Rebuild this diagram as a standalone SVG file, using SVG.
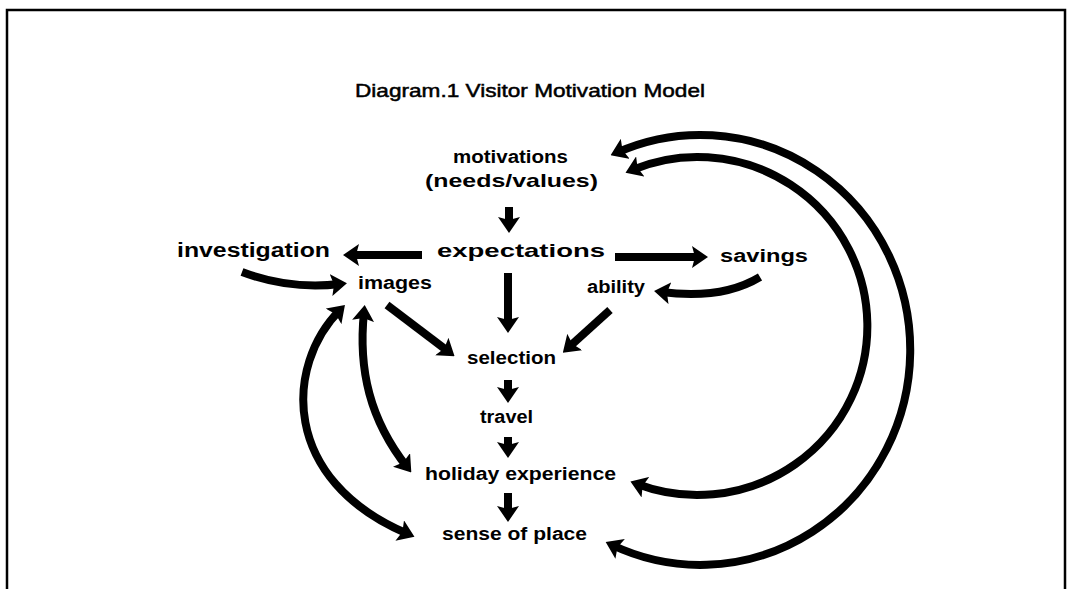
<svg xmlns="http://www.w3.org/2000/svg" width="1068" height="589" viewBox="0 0 1068 589">
<style>
.lbl{font-family:"Liberation Sans",Arial,Helvetica,sans-serif;font-weight:bold;fill:#000;}
.ttl{font-family:"Liberation Sans",Arial,Helvetica,sans-serif;font-size:19px;fill:#000;stroke:#000;stroke-width:0.5;}
.c{fill:none;stroke:#000;stroke-width:8;}
</style>
<defs>
<marker id="ah" viewBox="0 0 16 22" markerUnits="userSpaceOnUse" markerWidth="16" markerHeight="22" refX="9" refY="11" orient="auto-start-reverse">
<path d="M0,0 L16,11 L0,22 L3,11 z" fill="#000"/>
</marker>
</defs>
<rect width="1068" height="589" fill="#fff"/>
<g id="frame">
<path d="M7,589 L7,10 L1065,10 L1065,589" fill="none" stroke="#000" stroke-width="2.5"/>
</g>
<text class="ttl" x="355" y="97" textLength="350" lengthAdjust="spacingAndGlyphs">Diagram.1 Visitor Motivation Model</text>
<g id="connectors">
<path class="c" d="M509,207 L509,226" marker-end="url(#ah)"/>
<path class="c" d="M422,255 L350,255" marker-end="url(#ah)"/>
<path class="c" d="M615,257 L701,257" marker-end="url(#ah)"/>
<path class="c" d="M508,273 L508,326" marker-end="url(#ah)"/>
<path class="c" d="M387,305 L449,352" marker-end="url(#ah)"/>
<path class="c" d="M610,310 L568,348" marker-end="url(#ah)"/>
<path class="c" d="M508,380 L508,396" marker-end="url(#ah)"/>
<path class="c" d="M508,437 L508,451" marker-end="url(#ah)"/>
<path class="c" d="M508,493 L508,515" marker-end="url(#ah)"/>
<path class="c" d="M242,272 Q290,290 340,284" marker-end="url(#ah)"/>
<path class="c" d="M760,277 Q722,300 661,292" marker-end="url(#ah)"/>
<path class="c" d="M364,312 C358,370 370,420 407,467" marker-start="url(#ah)" marker-end="url(#ah)"/>
<path class="c" d="M340,310 C285,365 280,480 408,534" marker-start="url(#ah)" marker-end="url(#ah)"/>
<path class="c" d="M612,545 A210,215 0 1 0 617,152.5" marker-start="url(#ah)" marker-end="url(#ah)"/>
<path class="c" d="M637,484 A170,169 0 1 0 632,170" marker-start="url(#ah)" marker-end="url(#ah)"/>
</g>
<g id="motivations">
<text class="lbl" x="453" y="163" font-size="18" textLength="115" lengthAdjust="spacingAndGlyphs">motivations</text>
<text class="lbl" x="425" y="187" font-size="19" textLength="173" lengthAdjust="spacingAndGlyphs">(needs/values)</text>
</g>
<g id="expectations"><text class="lbl" x="437" y="257" font-size="19" textLength="168" lengthAdjust="spacingAndGlyphs">expectations</text></g>
<g id="investigation"><text class="lbl" x="177" y="257" font-size="20" textLength="153" lengthAdjust="spacingAndGlyphs">investigation</text></g>
<g id="savings"><text class="lbl" x="720" y="262" font-size="18" textLength="88" lengthAdjust="spacingAndGlyphs">savings</text></g>
<g id="images"><text class="lbl" x="358" y="289" font-size="18" textLength="74" lengthAdjust="spacingAndGlyphs">images</text></g>
<g id="ability"><text class="lbl" x="587" y="293" font-size="18" textLength="58" lengthAdjust="spacingAndGlyphs">ability</text></g>
<g id="selection"><text class="lbl" x="467" y="364" font-size="18" textLength="89" lengthAdjust="spacingAndGlyphs">selection</text></g>
<g id="travel"><text class="lbl" x="480" y="423" font-size="18" textLength="53" lengthAdjust="spacingAndGlyphs">travel</text></g>
<g id="holiday-experience"><text class="lbl" x="425" y="480" font-size="18" textLength="191" lengthAdjust="spacingAndGlyphs">holiday experience</text></g>
<g id="sense-of-place"><text class="lbl" x="442" y="540" font-size="18" textLength="145" lengthAdjust="spacingAndGlyphs">sense of place</text></g>
</svg>
